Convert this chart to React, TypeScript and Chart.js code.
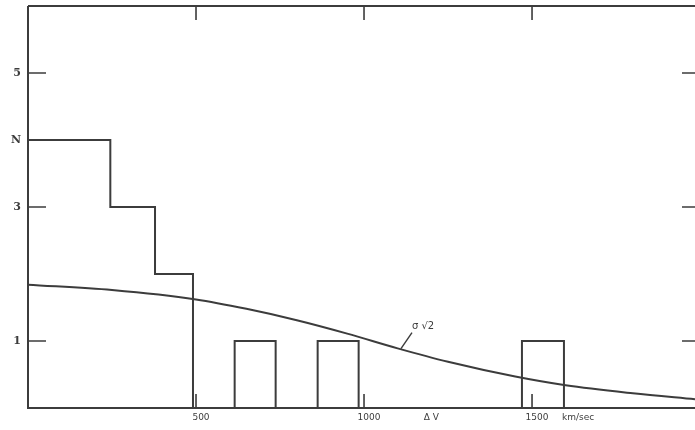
import React, { useEffect, useRef } from "react";
import { Chart, registerables } from "chart.js";

Chart.register(...registerables);

// Histogram bins (km/sec) and counts
const binLeft = [0, 245, 378, 615, 862, 1470];
const binRight = [245, 378, 491, 737, 984, 1595];
const binCount = [4, 3, 2, 1, 1, 1];

// Smooth curve
const curveX = [0, 250, 500, 650, 800, 950, 1100, 1250, 1450, 1600, 1800, 1985];
const curveY = [1.84, 1.76, 1.62, 1.48, 1.31, 1.11, 0.89, 0.69, 0.47, 0.34, 0.22, 0.13];

// Axis ticks and labels
const yTickMarks = [1, 3, 5];
const yTickValues = [1, 3, 4, 5];
const yTickLabels = ["1", "3", "N", "5"];
const xTickValues = [500, 1000, 1500];
const xTickLabels = ["500", "1000", "1500"];
const xAxisTitle = "\u0394 V";
const xUnit = "km/sec";
const curveLabel = "\u03c3 \u221a2";
const curveLabelAt = [1110, 0.87];

const X_MIN = 0;
const X_MAX = 1985;
const Y_MIN = 0;
const Y_MAX = 6;

const INK = "#3c3c3c";

function buildHistogram() {
  const pts: { x: number; y: number | null }[] = [];
  for (let i = 0; i < binLeft.length; i++) {
    const contiguous = i > 0 && binLeft[i] === binRight[i - 1];
    if (!contiguous) {
      if (i > 0) {
        pts.push({ x: binRight[i - 1], y: 0 });
        pts.push({ x: binRight[i - 1], y: null });
      }
      pts.push({ x: binLeft[i], y: 0 });
    }
    pts.push({ x: binLeft[i], y: binCount[i] });
    pts.push({ x: binRight[i], y: binCount[i] });
  }
  pts.push({ x: binRight[binRight.length - 1], y: 0 });
  return pts;
}

const framePlugin = {
  id: "frame",
  afterDraw(chart: any) {
    const { ctx, chartArea } = chart;
    const xs = chart.scales.x;
    const ys = chart.scales.y;
    const { left, right, top, bottom } = chartArea;
    ctx.save();
    ctx.strokeStyle = INK;
    ctx.fillStyle = INK;
    ctx.lineWidth = 2;
    // frame: left, bottom, top
    ctx.beginPath();
    ctx.moveTo(left, top);
    ctx.lineTo(left, bottom);
    ctx.lineTo(right, bottom);
    ctx.moveTo(left, top);
    ctx.lineTo(right, top);
    ctx.stroke();

    // y ticks (inward on both sides)
    ctx.lineWidth = 1.6;
    yTickMarks.forEach((v) => {
      const y = ys.getPixelForValue(v);
      ctx.beginPath();
      ctx.moveTo(left, y);
      ctx.lineTo(left + 18, y);
      ctx.moveTo(right - 13, y);
      ctx.lineTo(right, y);
      ctx.stroke();
    });
    // x ticks (inward at bottom and top)
    xTickValues.forEach((v) => {
      const x = xs.getPixelForValue(v);
      ctx.beginPath();
      ctx.moveTo(x, bottom);
      ctx.lineTo(x, bottom - 14);
      ctx.moveTo(x, top);
      ctx.lineTo(x, top + 14);
      ctx.stroke();
    });

    // y labels
    ctx.font = 'bold 11px "DejaVu Serif"';
    ctx.textAlign = "right";
    ctx.textBaseline = "middle";
    yTickLabels.forEach((t, i) => {
      ctx.fillText(t, left - 7, ys.getPixelForValue(yTickValues[i]));
    });

    // x labels
    ctx.font = '9px "DejaVu Sans"';
    ctx.textAlign = "center";
    ctx.textBaseline = "top";
    xTickLabels.forEach((t, i) => {
      ctx.fillText(t, xs.getPixelForValue(xTickValues[i]) + 5, bottom + 5);
    });
    ctx.fillText(xAxisTitle, xs.getPixelForValue(1200), bottom + 5);
    ctx.textAlign = "left";
    const x1500 = xs.getPixelForValue(1500);
    ctx.fillText(xUnit, x1500 + 30, bottom + 5);

    // curve label with leader
    const px = xs.getPixelForValue(curveLabelAt[0]);
    const py = ys.getPixelForValue(curveLabelAt[1]);
    ctx.lineWidth = 1.4;
    ctx.beginPath();
    ctx.moveTo(px, py - 1);
    ctx.lineTo(px + 11, py - 17);
    ctx.stroke();
    ctx.font = '10px "DejaVu Sans"';
    ctx.textBaseline = "middle";
    ctx.fillText(curveLabel, px + 11, py - 23);
    ctx.restore();
  },
};

export default function App() {
  const ref = useRef<HTMLCanvasElement>(null);
  useEffect(() => {
    document.body.style.margin = "0";
    const canvas = ref.current;
    if (!canvas) return;
    const chart = new Chart(canvas, {
      type: "line",
      data: {
        datasets: [
          {
            data: buildHistogram() as any,
            borderColor: INK,
            borderWidth: 2,
            pointRadius: 0,
            tension: 0,
            spanGaps: false,
            fill: false,
          },
          {
            data: curveX.map((x, i) => ({ x, y: curveY[i] })) as any,
            borderColor: INK,
            borderWidth: 2,
            pointRadius: 0,
            cubicInterpolationMode: "monotone",
            fill: false,
          },
        ],
      },
      options: {
        animation: false,
        responsive: false,
        maintainAspectRatio: false,
        devicePixelRatio: 1,
        layout: { padding: { left: 28, top: 6, right: 0, bottom: 22 } },
        plugins: {
          legend: { display: false },
          tooltip: { enabled: false },
        },
        scales: {
          x: { type: "linear", min: X_MIN, max: X_MAX, display: false },
          y: { type: "linear", min: Y_MIN, max: Y_MAX, display: false },
        },
      },
      plugins: [framePlugin],
    });
    return () => chart.destroy();
  }, []);
  return (
    <div style={{ width: 695, height: 430, background: "#fff" }}>
      <canvas ref={ref} width={695} height={430} style={{ display: "block" }} />
    </div>
  );
}
